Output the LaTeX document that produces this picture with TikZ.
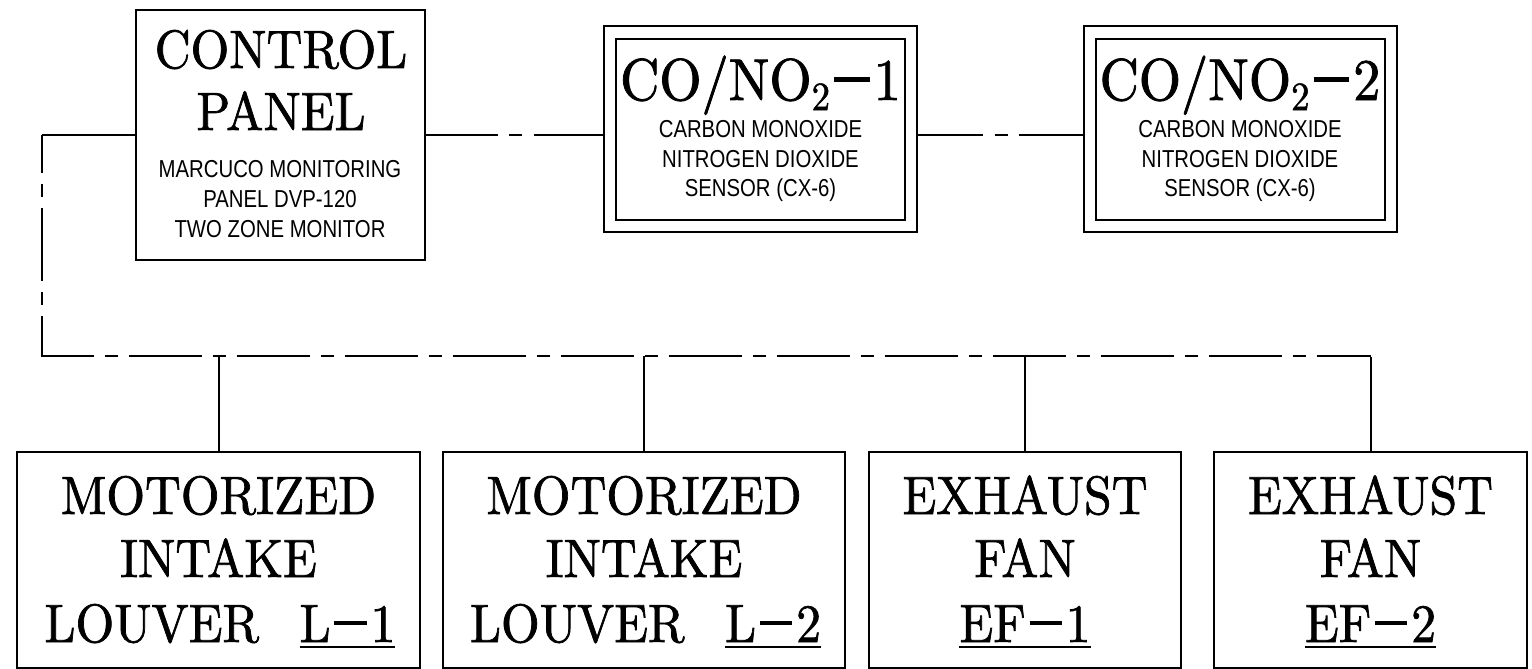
\documentclass[tikz,border=0pt]{standalone}
\usepackage{fontspec}
\newfontfamily\headfont{lmroman10-regular.otf}[FakeStretch=0.92,FakeBold=1.3]
\newfontfamily\subfont{Liberation Sans}[FakeStretch=0.83]
\newcommand\mymin{\hspace{0.07em}\rule[0.31em]{0.6em}{0.075em}\hspace{0.07em}}
\newcommand\myul[1]{\setbox0\hbox{#1}\rlap{\rule[-6pt]{\wd0}{2.2pt}}\box0}
\newcommand\subtwo{\raisebox{-10pt}{\fontsize{40pt}{40pt}\selectfont 2}}
\begin{document}
\begin{tikzpicture}[x=1pt,y=-1pt,
  box/.style={draw, line width=2pt, rectangle, inner sep=0pt},
  txt/.style={inner sep=0pt, anchor=base},
  big/.style={font=\headfont\fontsize{54pt}{54pt}\selectfont},
  head/.style={font=\headfont\fontsize{59pt}{59pt}\selectfont},
  small/.style={font=\subfont\fontsize{24.5pt}{24.5pt}\selectfont},
  wire/.style={line width=2pt},
  dashdot/.style={wire, dash pattern=on 73pt off 11pt on 13pt off 11pt}]
\useasboundingbox (0,0) rectangle (1532,669);
% control panel
\node[box, minimum width=289pt, minimum height=250pt] (cp) at (280.5,135) {};
\node[txt,big] (cpt1) at (281,68) {CONTROL};
\node[txt,big] (cpt2) at (281,130) {PANEL};
\node[txt,small] (cps1) at (280,177) {MARCUCO MONITORING};
\node[txt,small] (cps2) at (280,207) {PANEL DVP-120};
\node[txt,small] (cps3) at (280,237) {TWO ZONE MONITOR};
% sensor 1
\node[box, minimum width=313pt, minimum height=206pt] (s1) at (760.5,129) {};
\node[box, minimum width=289pt, minimum height=181pt] (s1i) at (760.5,129.5) {};
\node[txt,head] (s1h) at (760.5,100) {CO/NO\subtwo\mymin 1};
\node[txt,small] (s1a) at (760.5,137) {CARBON MONOXIDE};
\node[txt,small] (s1b) at (760.5,167) {NITROGEN DIOXIDE};
\node[txt,small] (s1c) at (760.5,196) {SENSOR (CX-6)};
% sensor 2
\node[box, minimum width=313pt, minimum height=206pt] (s2) at (1240,129) {};
\node[box, minimum width=289pt, minimum height=181pt] (s2i) at (1240,129.5) {};
\node[txt,head] (s2h) at (1240,100) {CO/NO\subtwo\mymin 2};
\node[txt,small] (s2a) at (1240,137) {CARBON MONOXIDE};
\node[txt,small] (s2b) at (1240,167) {NITROGEN DIOXIDE};
\node[txt,small] (s2c) at (1240,196) {SENSOR (CX-6)};
% bottom boxes
\node[box, minimum width=403pt, minimum height=216pt] (l1) at (218.5,560) {};
\node[box, minimum width=402pt, minimum height=216pt] (l2) at (644,560) {};
\node[box, minimum width=312pt, minimum height=216pt] (ef1) at (1025,560) {};
\node[box, minimum width=313pt, minimum height=216pt] (ef2) at (1370.5,560) {};
\node[txt,big] (l1a) at (218.5,514) {MOTORIZED};
\node[txt,big] (l1b) at (218.5,577) {INTAKE};
\node[txt,big] (l1c) at (220,642) {LOUVER\hspace{0.75em}\myul{L\mymin 1}};
\node[txt,big] (l2a) at (644,514) {MOTORIZED};
\node[txt,big] (l2b) at (644,577) {INTAKE};
\node[txt,big] (l2c) at (645.5,642) {LOUVER\hspace{0.75em}\myul{L\mymin 2}};
\node[txt,big] (ef1a) at (1025,514) {EXHAUST};
\node[txt,big] (ef1b) at (1025,577) {FAN};
\node[txt,big] (ef1c) at (1025,642) {\myul{EF\mymin 1}};
\node[txt,big] (ef2a) at (1370.5,514) {EXHAUST};
\node[txt,big] (ef2b) at (1370.5,577) {FAN};
\node[txt,big] (ef2c) at (1370.5,642) {\myul{EF\mymin 2}};
% bus
\coordinate (busTL) at (42,135);
\coordinate (busBL) at (42,356);
\coordinate (busBR) at (1370.5,356);
\draw[wire] (cp.west) -- (busTL);
\draw[dashdot, dash phase=35pt] (busTL) -- (busBL);
\draw[dashdot, dash phase=20.5pt] ([xshift=-1pt]busBL) -- (busBR);
\draw[wire] (l1.north) -- (l1.north |- busBL);
\draw[wire] (l2.north) -- (l2.north |- busBL);
\draw[wire] (ef1.north) -- (ef1.north |- busBL);
\draw[wire] (ef2.north) -- ([yshift=-1pt]ef2.north |- busBL);
% sensor links
\draw[wire, dash pattern=on 71.5pt off 11.5pt on 13pt off 11.5pt on 300pt] (cp.east) -- (cp.east -| s1.west);
\draw[wire, dash pattern=on 65pt off 11.5pt on 13pt off 11.5pt on 300pt] (s1.east |- cp.east) -- (cp.east -| s2.west);
\end{tikzpicture}
\end{document}
